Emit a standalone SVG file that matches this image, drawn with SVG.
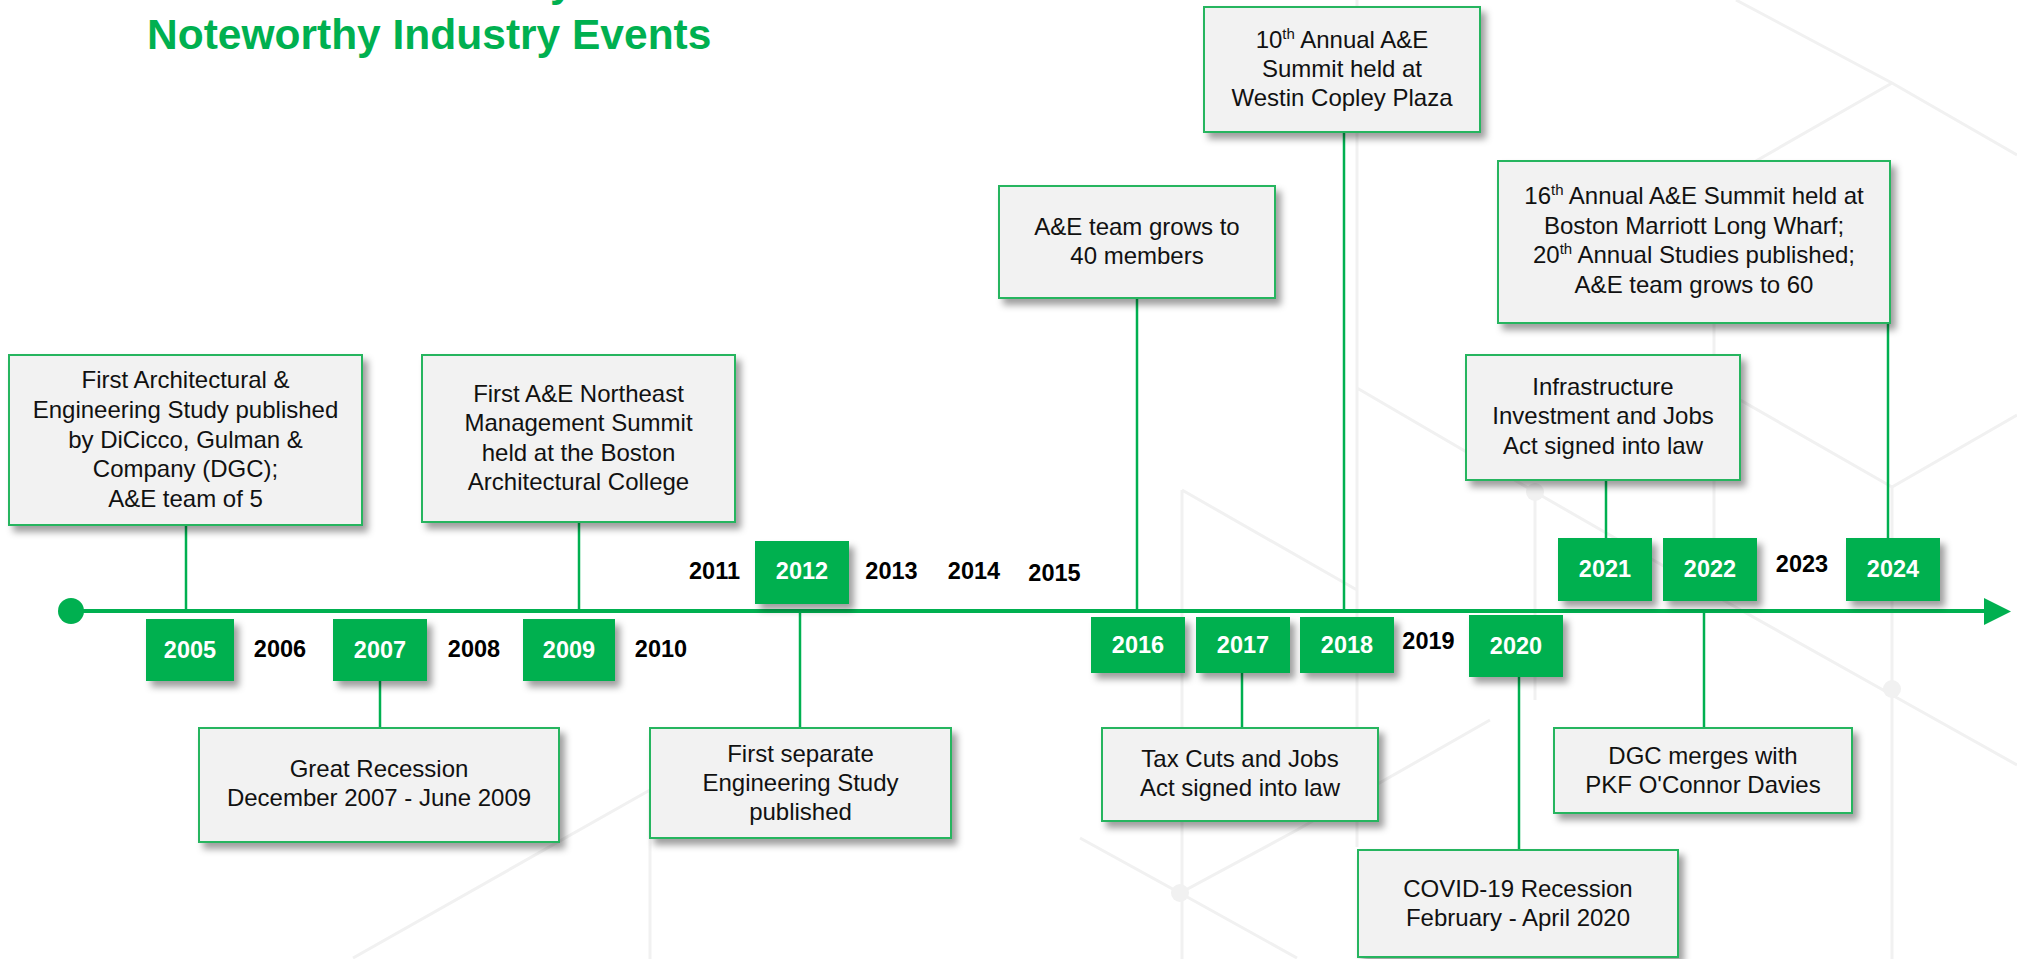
<svg xmlns="http://www.w3.org/2000/svg" width="2017" height="959" viewBox="0 0 2017 959">
  <defs>
    <filter id="shadow" x="-10%" y="-10%" width="130%" height="140%">
      <feDropShadow dx="5" dy="6" stdDeviation="3.5" flood-color="#000" flood-opacity="0.38"/>
    </filter>
    <style>
      .bg { stroke: #f1f1f1; stroke-width: 3; fill: none; }
      .bgdot { fill: #f1f1f1; }
      .box { fill: #f2f2f2; stroke: #26b55e; stroke-width: 2; filter: url(#shadow); }
      .yr { fill: #00b050; filter: url(#shadow); }
      .conn { stroke: #00b050; stroke-width: 2.5; fill: none; }
      .axis { stroke: #00b050; stroke-width: 4; fill: none; }
      .txt { font-family: "Liberation Sans", Arial, sans-serif; font-size: 24px; fill: #111; text-anchor: middle; }
      .sup { font-size: 15px; }
      .yt { font-family: "Liberation Sans", Arial, sans-serif; font-size: 23.5px; font-weight: bold; text-anchor: middle; }
      .yw { fill: #ffffff; }
      .yb { fill: #000000; }
      .title { font-family: "Liberation Sans", Arial, sans-serif; font-weight: bold; fill: #00b050; }
    </style>
  </defs>

  <rect width="2017" height="959" fill="#ffffff"/>

  <!-- faint geometric backdrop -->
  <g id="backdrop">
    <path class="bg" d="M353 958 L650 790 M650 790 L650 959"/>
    <path class="bg" d="M1357 0 L1357 847 M1357 388 L1535 492 M1182 490 L1357 590 M1182 490 L1182 959"/>
    <path class="bg" d="M1080 838 L1180 893 L1297 830 L1490 720 M1180 893 L1297 958"/>
    <path class="bg" d="M1535 492 L1535 700 M1535 492 L1714 595 L1892 695 M1714 185 L1714 595"/>
    <path class="bg" d="M1714 385 L1892 487 L2017 415 M1892 487 L1892 959 M1892 695 L2017 765"/>
    <path class="bg" d="M1736 0 L1892 83 L2017 155 M1714 185 L1892 83"/>
    <circle class="bgdot" cx="1535" cy="492" r="9"/>
    <circle class="bgdot" cx="1892" cy="689" r="9"/>
    <circle class="bgdot" cx="1180" cy="893" r="9"/>
  </g>

  <!-- heading (first line runs off the top edge) -->
  <text class="title" x="550" y="-4" font-size="42.5">y</text>
  <text class="title" x="147" y="49" font-size="42.5">Noteworthy Industry Events</text>

  <!-- timeline axis and connectors -->
  <g id="connectors">
    <line class="axis" x1="71" y1="611" x2="1988" y2="611"/>
    <circle cx="71" cy="611" r="13" fill="#00b050"/>
    <polygon points="1984,598 2011,611.5 1984,625" fill="#00b050"/>
    <line class="conn" x1="186" y1="525" x2="186" y2="611"/>
    <line class="conn" x1="579" y1="522" x2="579" y2="611"/>
    <line class="conn" x1="380" y1="681" x2="380" y2="728"/>
    <line class="conn" x1="800" y1="611" x2="800" y2="728"/>
    <line class="conn" x1="1137" y1="298" x2="1137" y2="611"/>
    <line class="conn" x1="1344" y1="132" x2="1344" y2="611"/>
    <line class="conn" x1="1242" y1="673" x2="1242" y2="728"/>
    <line class="conn" x1="1519" y1="677" x2="1519" y2="850"/>
    <line class="conn" x1="1606" y1="480" x2="1606" y2="538"/>
    <line class="conn" x1="1704" y1="611" x2="1704" y2="728"/>
    <line class="conn" x1="1888" y1="323" x2="1888" y2="538"/>
  </g>

  <!-- year markers -->
  <g id="y2005"><rect class="yr" x="146" y="619" width="88" height="62"/><text class="yt yw" x="190" y="658">2005</text></g>
  <g id="y2006"><text class="yt yb" x="280" y="657">2006</text></g>
  <g id="y2007"><rect class="yr" x="333" y="619" width="94" height="62"/><text class="yt yw" x="380" y="658">2007</text></g>
  <g id="y2008"><text class="yt yb" x="474" y="657">2008</text></g>
  <g id="y2009"><rect class="yr" x="523" y="619" width="92" height="62"/><text class="yt yw" x="569" y="658">2009</text></g>
  <g id="y2010"><text class="yt yb" x="661" y="657">2010</text></g>
  <g id="y2011"><text class="yt yb" x="714.5" y="579">2011</text></g>
  <g id="y2012"><rect class="yr" x="755" y="541" width="94" height="63"/><text class="yt yw" x="802" y="579">2012</text></g>
  <g id="y2013"><text class="yt yb" x="891.5" y="579">2013</text></g>
  <g id="y2014"><text class="yt yb" x="974" y="579">2014</text></g>
  <g id="y2015"><text class="yt yb" x="1054.5" y="581">2015</text></g>
  <g id="y2016"><rect class="yr" x="1091" y="617" width="94" height="56"/><text class="yt yw" x="1138" y="653">2016</text></g>
  <g id="y2017"><rect class="yr" x="1196" y="617" width="94" height="56"/><text class="yt yw" x="1243" y="653">2017</text></g>
  <g id="y2018"><rect class="yr" x="1300" y="617" width="94" height="56"/><text class="yt yw" x="1347" y="653">2018</text></g>
  <g id="y2019"><text class="yt yb" x="1428.5" y="649">2019</text></g>
  <g id="y2020"><rect class="yr" x="1469" y="615" width="94" height="62"/><text class="yt yw" x="1516" y="654">2020</text></g>
  <g id="y2021"><rect class="yr" x="1558" y="538" width="94" height="63"/><text class="yt yw" x="1605" y="577">2021</text></g>
  <g id="y2022"><rect class="yr" x="1663" y="538" width="94" height="63"/><text class="yt yw" x="1710" y="577">2022</text></g>
  <g id="y2023"><text class="yt yb" x="1802" y="572">2023</text></g>
  <g id="y2024"><rect class="yr" x="1846" y="538" width="94" height="63"/><text class="yt yw" x="1893" y="577">2024</text></g>

  <!-- event boxes -->
  <g id="ev-first-study">
    <rect class="box" x="9" y="355" width="353" height="170"/>
    <text class="txt" x="185.5" y="388">First Architectural &amp;</text>
    <text class="txt" x="185.5" y="418">Engineering Study published</text>
    <text class="txt" x="185.5" y="448">by DiCicco, Gulman &amp;</text>
    <text class="txt" x="185.5" y="477">Company (DGC);</text>
    <text class="txt" x="185.5" y="507">A&amp;E team of 5</text>
  </g>
  <g id="ev-first-summit">
    <rect class="box" x="422" y="355" width="313" height="167"/>
    <text class="txt" x="578.5" y="402">First A&amp;E Northeast</text>
    <text class="txt" x="578.5" y="431">Management Summit</text>
    <text class="txt" x="578.5" y="460.5">held at the Boston</text>
    <text class="txt" x="578.5" y="490">Architectural College</text>
  </g>
  <g id="ev-great-recession">
    <rect class="box" x="199" y="728" width="360" height="114"/>
    <text class="txt" x="379" y="777">Great Recession</text>
    <text class="txt" x="379" y="806">December 2007 - June 2009</text>
  </g>
  <g id="ev-engineering-study">
    <rect class="box" x="650" y="728" width="301" height="110"/>
    <text class="txt" x="800.5" y="762">First separate</text>
    <text class="txt" x="800.5" y="791">Engineering Study</text>
    <text class="txt" x="800.5" y="820">published</text>
  </g>
  <g id="ev-team-40">
    <rect class="box" x="999" y="186" width="276" height="112"/>
    <text class="txt" x="1137" y="235">A&amp;E team grows to</text>
    <text class="txt" x="1137" y="264">40 members</text>
  </g>
  <g id="ev-10th-summit">
    <rect class="box" x="1204" y="7" width="276" height="125"/>
    <text class="txt" x="1342" y="48">10<tspan class="sup" dy="-9">th</tspan><tspan dy="9"> Annual A&amp;E</tspan></text>
    <text class="txt" x="1342" y="77">Summit held at</text>
    <text class="txt" x="1342" y="106">Westin Copley Plaza</text>
  </g>
  <g id="ev-tax-cuts">
    <rect class="box" x="1102" y="728" width="276" height="93"/>
    <text class="txt" x="1240" y="767">Tax Cuts and Jobs</text>
    <text class="txt" x="1240" y="796">Act signed into law</text>
  </g>
  <g id="ev-16th-summit">
    <rect class="box" x="1498" y="161" width="392" height="162"/>
    <text class="txt" x="1694" y="204">16<tspan class="sup" dy="-9">th</tspan><tspan dy="9"> Annual A&amp;E Summit held at</tspan></text>
    <text class="txt" x="1694" y="234">Boston Marriott Long Wharf;</text>
    <text class="txt" x="1694" y="263">20<tspan class="sup" dy="-9">th</tspan><tspan dy="9"> Annual Studies published;</tspan></text>
    <text class="txt" x="1694" y="293">A&amp;E team grows to 60</text>
  </g>
  <g id="ev-infrastructure">
    <rect class="box" x="1466" y="355" width="274" height="125"/>
    <text class="txt" x="1603" y="395">Infrastructure</text>
    <text class="txt" x="1603" y="424">Investment and Jobs</text>
    <text class="txt" x="1603" y="454">Act signed into law</text>
  </g>
  <g id="ev-merger">
    <rect class="box" x="1554" y="728" width="298" height="85"/>
    <text class="txt" x="1703" y="764">DGC merges with</text>
    <text class="txt" x="1703" y="793">PKF O'Connor Davies</text>
  </g>
  <g id="ev-covid">
    <rect class="box" x="1358" y="850" width="320" height="107"/>
    <text class="txt" x="1518" y="897">COVID-19 Recession</text>
    <text class="txt" x="1518" y="926">February - April 2020</text>
  </g>
</svg>
